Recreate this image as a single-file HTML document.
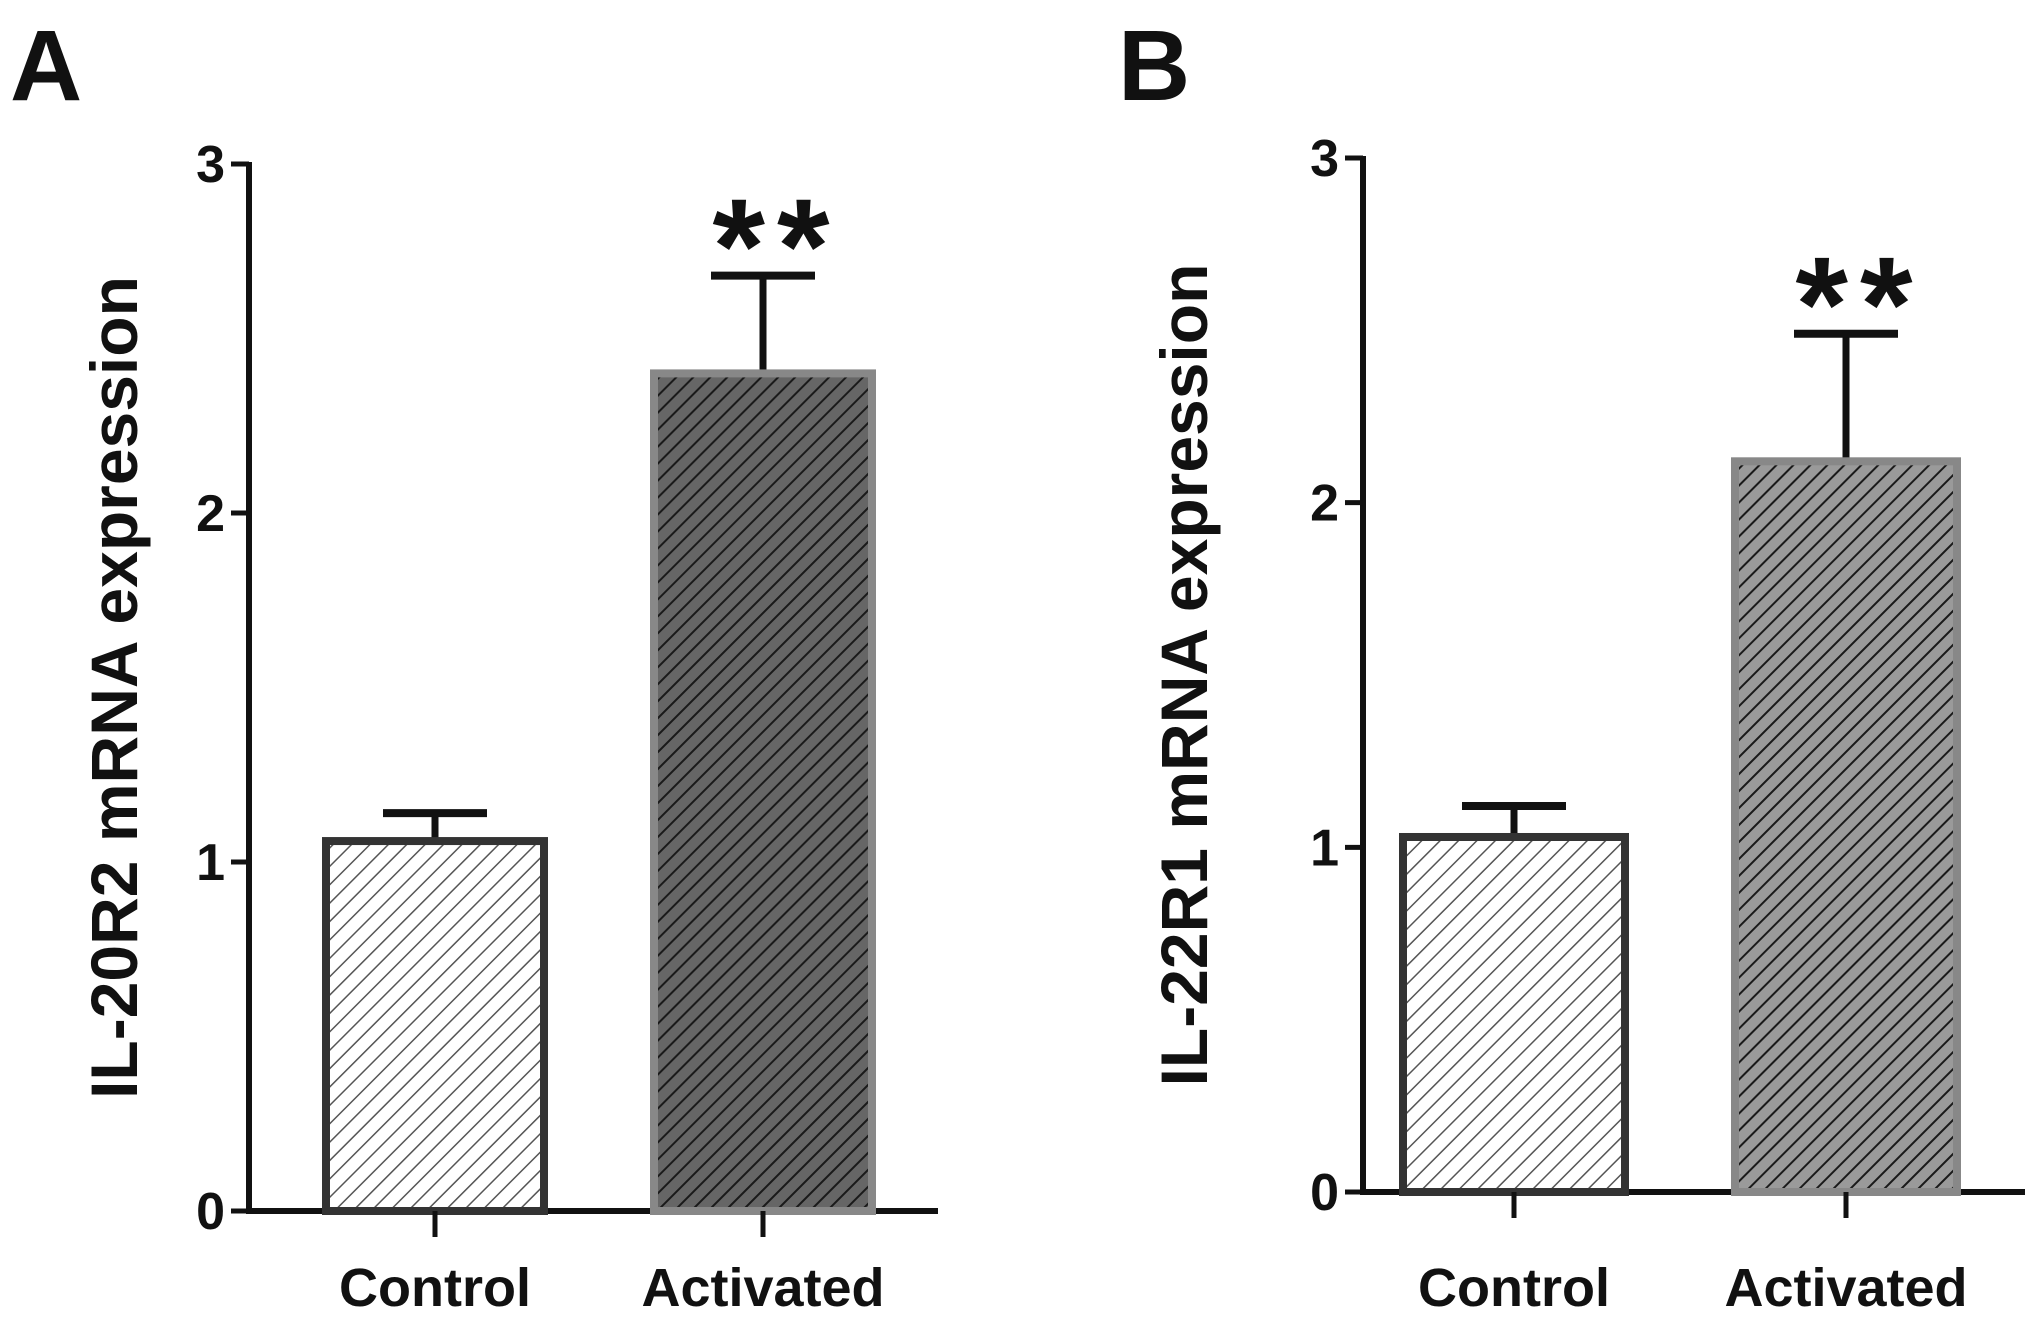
<!DOCTYPE html>
<html><head><meta charset="utf-8">
<style>
html,body{margin:0;padding:0;background:#fff;}
svg{display:block;}
text{font-family:"Liberation Sans",Arial,sans-serif;font-weight:bold;fill:#111;}
</style></head>
<body>
<svg id="chart" width="2031" height="1331" viewBox="0 0 2031 1331">
<defs>
<pattern id="hatchLight" patternUnits="userSpaceOnUse" width="13" height="13" patternTransform="rotate(45)">
<rect width="13" height="13" fill="#fff"/><line x1="0" y1="0" x2="0" y2="13" stroke="#555" stroke-width="3"/></pattern>
<pattern id="hatchDarkA" patternUnits="userSpaceOnUse" width="12" height="12" patternTransform="rotate(45)">
<rect width="12" height="12" fill="#666"/><line x1="0" y1="0" x2="0" y2="12" stroke="#1a1a1a" stroke-width="4"/></pattern>
<pattern id="hatchDarkB" patternUnits="userSpaceOnUse" width="12" height="12" patternTransform="rotate(45)">
<rect width="12" height="12" fill="#9a9a9a"/><line x1="0" y1="0" x2="0" y2="12" stroke="#1a1a1a" stroke-width="4"/></pattern>
</defs>
<g id="panelA"></g>
<g id="panelB"></g>
</svg>
<script>
const categories = ["Control", "Activated"];
const ticks = [0, 1, 2, 3];
const valuesA = [1.06, 2.40];
const errorsA = [0.08, 0.28];
const valuesB = [1.03, 2.12];
const errorsB = [0.09, 0.37];
const sigA = ["", "**"];
const sigB = ["", "**"];

const NS = "http://www.w3.org/2000/svg";
function mk(parent, tag, attrs, txt){
  const e = document.createElementNS(NS, tag);
  for (const k in attrs) e.setAttribute(k, attrs[k]);
  if (txt !== undefined) e.textContent = txt;
  parent.appendChild(e);
  return e;
}

function drawPanel(g, cfg){
  const y = v => cfg.y0 - v * (cfg.y0 - cfg.y3) / 3;
  const letter = mk(g, "text", {x: cfg.letterX, y: 100, "font-size": 100}, cfg.letter);
  
  
  const ya = mk(g, "line", {x1: cfg.ax, y1: y(3) - 2, x2: cfg.ax, y2: cfg.y0, stroke: "#111", "stroke-width": 6});
  
  
  ticks.forEach(t => {
    const tl = mk(g, "line", {x1: cfg.ax - 18, y1: y(t), x2: cfg.ax, y2: y(t), stroke: "#111", "stroke-width": 5});
    
    
    const tt = mk(g, "text", {x: cfg.ax - 24, y: y(t) + 18, "font-size": 52, "text-anchor": "end"}, String(t));
    
    
  });
  const xa = mk(g, "line", {x1: cfg.ax - 3, y1: cfg.y0, x2: cfg.axEnd, y2: cfg.y0, stroke: "#111", "stroke-width": 6});
  
  
  const yt = mk(g, "text", {transform: `translate(${cfg.titleX},${(y(0)+y(3))/2}) rotate(-90)`, "font-size": 66, "text-anchor": "middle"}, cfg.title);
  
  

  categories.forEach((c, i) => {
    const cx = cfg.centers[i];
    const w = cfg.barW;
    const v = cfg.values[i], e = cfg.errors[i];
    const top = y(v);
    const eb = mk(g, "line", {x1: cx, y1: top, x2: cx, y2: y(v + e), stroke: "#111", "stroke-width": 7});
    
    
    const cap = mk(g, "line", {x1: cx - 52, y1: y(v + e), x2: cx + 52, y2: y(v + e), stroke: "#111", "stroke-width": 8});
    
    
    const bar = mk(g, "rect", {x: cx - w/2, y: top, width: w, height: cfg.y0 - top,
      fill: i === 0 ? "url(#hatchLight)" : cfg.darkFill,
      stroke: i === 0 ? "#333" : "#888", "stroke-width": 8});
    
    
    const xt = mk(g, "line", {x1: cx, y1: cfg.y0, x2: cx, y2: cfg.y0 + 26, stroke: "#111", "stroke-width": 5});
    
    
    const xl = mk(g, "text", {x: cx, y: 1306, "font-size": 54, "text-anchor": "middle"}, c);
    
    
    if (cfg.sig[i]) {
      const s = mk(g, "text", {x: cx + 14, y: y(v + e) + 17, "font-size": 135, "letter-spacing": 12, "text-anchor": "middle"}, cfg.sig[i]);
      
      
    }
  });
}

drawPanel(document.getElementById("panelA"), {
  letter: "A", letterX: 10, ax: 249, axEnd: 938, y0: 1211, y3: 164,
  centers: [435, 763], barW: 218, values: valuesA, errors: errorsA, sig: sigA,
  darkFill: "url(#hatchDarkA)", title: "IL-20R2 mRNA expression", titleX: 137
});
drawPanel(document.getElementById("panelB"), {
  letter: "B", letterX: 1118, ax: 1363, axEnd: 2025, y0: 1192, y3: 158,
  centers: [1514, 1846], barW: 222, values: valuesB, errors: errorsB, sig: sigB,
  darkFill: "url(#hatchDarkB)", title: "IL-22R1 mRNA expression", titleX: 1207
});
</script>
</body></html>
